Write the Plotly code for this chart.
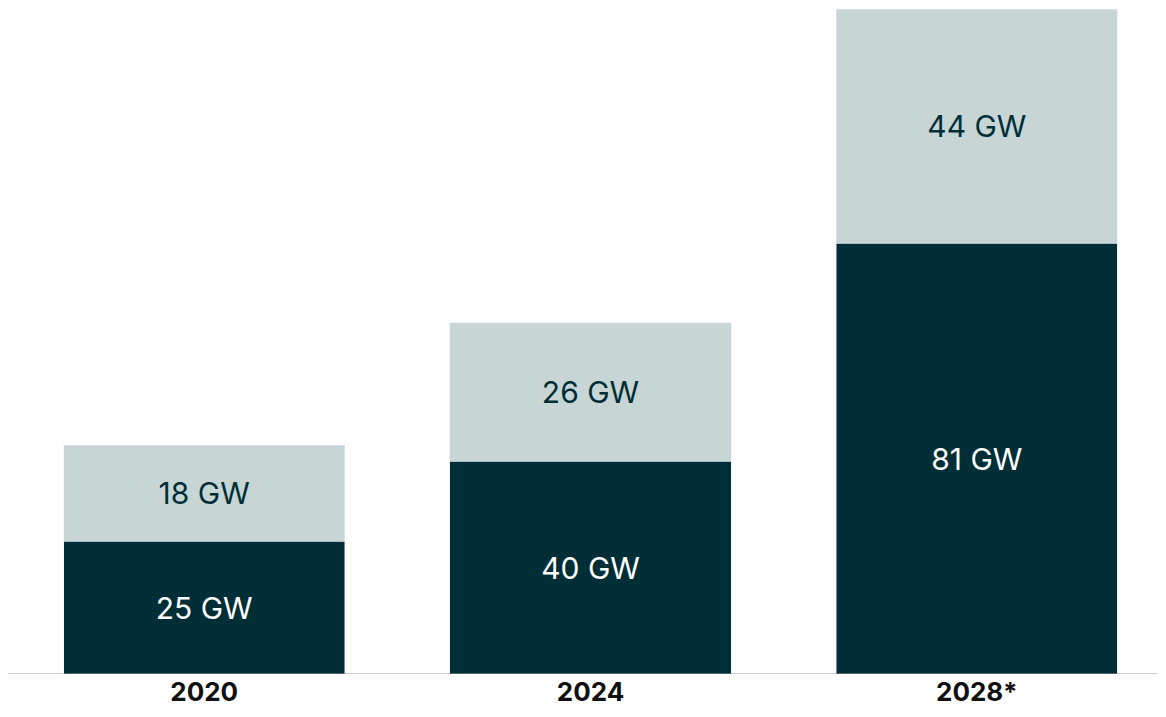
import plotly.graph_objects as go

years = ["2020", "2024", "2028*"]
base = [25, 40, 81]
top = [18, 26, 44]
base_lbl = ["25 GW", "40 GW", "81 GW"]
top_lbl = ["18 GW", "26 GW", "44 GW"]

fig = go.Figure()
fig.add_bar(x=years, y=base, marker_color="#002e36", text=base_lbl, textposition="inside",
            insidetextanchor="middle", textfont=dict(color="white", size=30, family="Inter"))
fig.add_bar(x=years, y=top, marker_color="#c7d6d5", text=top_lbl, textposition="inside",
            insidetextanchor="middle", textfont=dict(color="#002e36", size=30, family="Inter"))
fig.update_layout(
    barmode="stack", bargap=0.272, showlegend=False,
    width=1166, height=717, margin=dict(l=3, r=4, t=1, b=51),
    plot_bgcolor="white", paper_bgcolor="white",
    uniformtext=dict(mode=False),
    xaxis=dict(showline=False, tickfont=dict(family="Inter", size=26, color="#111"), ticks=""),
    yaxis=dict(range=[0, 125], visible=False),
    shapes=[dict(type="line", xref="paper", yref="y", x0=-0.01, x1=1.01, y0=0, y1=0,
                 line=dict(color="#999", width=1))],
)
fig.update_xaxes(tickprefix="<b>", ticksuffix="</b>")
fig.write_html("out.html")
